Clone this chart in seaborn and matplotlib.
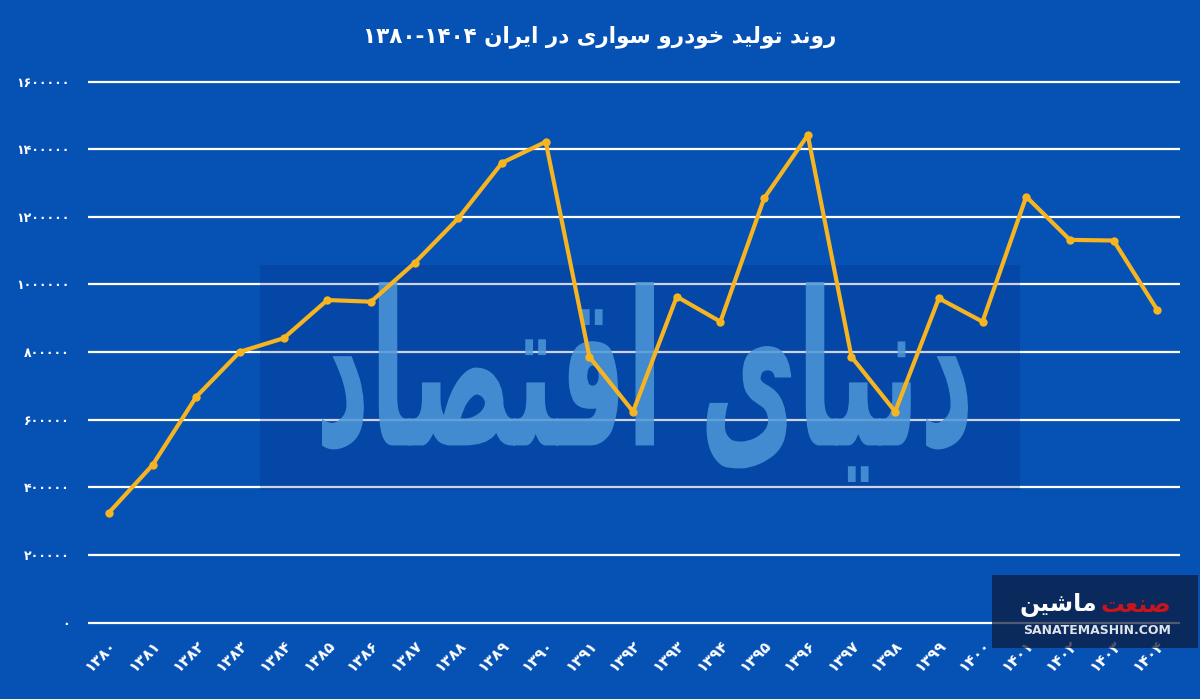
import matplotlib
matplotlib.use("Agg")
import matplotlib.pyplot as plt
import pandas as pd
import seaborn as sns
from matplotlib.patches import Rectangle, PathPatch
from matplotlib.textpath import TextPath
from matplotlib.font_manager import FontProperties
from matplotlib.transforms import Affine2D

# Data
years = [1380, 1381, 1382, 1383, 1384, 1385, 1386, 1387, 1388, 1389, 1390, 1391,
         1392, 1393, 1394, 1395, 1396, 1397, 1398, 1399, 1400, 1401, 1402, 1403, 1404]
production = [325000, 466000, 668000, 801000, 841000, 954000, 949000, 1064000,
              1196000, 1360000, 1422000, 786000, 624000, 964000, 890000, 1255000,
              1442000, 786000, 624000, 959000, 890000, 1260000, 1132000, 1130000, 925000]
y_ticks = [0, 200000, 400000, 600000, 800000, 1000000, 1200000, 1400000, 1600000]

title_text = "روند تولید خودرو سواری در ایران"
title_range = "۱۳۸۰-۱۴۰۴"
watermark_text = "دنیای اقتصاد"
logo_red = "صنعت"
logo_white = "ماشین"
logo_url = "SANATEMASHIN.COM"

# Persian digits
fa_digits = str.maketrans("0123456789", "۰۱۲۳۴۵۶۷۸۹")
x_labels = [str(y).translate(fa_digits) for y in years]
y_labels = [str(v).translate(fa_digits) for v in y_ticks]

# Minimal Arabic shaping (matplotlib has no complex text layout)
FORMS = {
    "ا": (0xFE8D, 0xFE8E, None, None),
    "د": (0xFEA9, 0xFEAA, None, None),
    "ر": (0xFEAD, 0xFEAE, None, None),
    "و": (0xFEED, 0xFEEE, None, None),
    "ب": (0xFE8F, 0xFE90, 0xFE91, 0xFE92),
    "ت": (0xFE95, 0xFE96, 0xFE97, 0xFE98),
    "خ": (0xFEA5, 0xFEA6, 0xFEA7, 0xFEA8),
    "س": (0xFEB1, 0xFEB2, 0xFEB3, 0xFEB4),
    "ش": (0xFEB5, 0xFEB6, 0xFEB7, 0xFEB8),
    "ص": (0xFEB9, 0xFEBA, 0xFEBB, 0xFEBC),
    "ع": (0xFEC9, 0xFECA, 0xFECB, 0xFECC),
    "ق": (0xFED5, 0xFED6, 0xFED7, 0xFED8),
    "ل": (0xFEDD, 0xFEDE, 0xFEDF, 0xFEE0),
    "م": (0xFEE1, 0xFEE2, 0xFEE3, 0xFEE4),
    "ن": (0xFEE5, 0xFEE6, 0xFEE7, 0xFEE8),
    "ی": (0xFEEF, 0xFEF0, 0xFEF3, 0xFEF4),
}


def shape_word(word):
    out = []
    for i, c in enumerate(word):
        if c not in FORMS:
            out.append(c)
            continue
        iso, fin, ini, med = FORMS[c]
        prev = word[i - 1] if i > 0 else None
        nxt = word[i + 1] if i + 1 < len(word) else None
        jp = prev is not None and prev in FORMS and FORMS[prev][2] is not None
        jn = ini is not None and nxt is not None and nxt in FORMS
        if jp and jn:
            code = med
        elif jp:
            code = fin
        elif jn:
            code = ini
        else:
            code = iso
        out.append(chr(code))
    return "".join(reversed(out))


def rtl(text):
    return " ".join(shape_word(w) for w in reversed(text.split(" ")))


df = pd.DataFrame({"year": years, "value": production})

bg = "#0551b4"
line_color = "#f6b420"

sns.set_style("white")
plt.rcParams["font.family"] = ["DejaVu Sans"]

fig = plt.figure(figsize=(12, 6.99), dpi=100, facecolor=bg)
ax = fig.add_axes([0.0733, 0.1046, 0.91, 0.7834])
ax.set_facecolor(bg)

sns.lineplot(data=df, x="year", y="value", ax=ax, color=line_color, linewidth=3,
             marker="o", markersize=6, markeredgewidth=0, zorder=2)

ax.set_xlim(years[0] - 0.48, years[-1] + 0.52)
ax.set_ylim(-10000, 1610000)
ax.set_yticks(y_ticks)
ax.set_yticklabels(y_labels, color="white", fontsize=9, fontweight="bold")
ax.set_xticks(years)
ax.set_xticklabels(x_labels, color="white", fontsize=11, fontweight="bold",
                   rotation=45, ha="right", va="top", rotation_mode="anchor")
ax.tick_params(axis="y", length=0, pad=13)
ax.tick_params(axis="x", length=0, pad=8)
ax.yaxis.grid(True, color="white", linewidth=1.6, zorder=0.5)
ax.set_axisbelow(True)
for s in ax.spines.values():
    s.set_visible(False)
ax.set_xlabel("")
ax.set_ylabel("")

# Title
fig.text(0.5, 0.948, title_range + " " + rtl(title_text), color="white",
         fontsize=15.5, fontweight="bold", ha="center", va="center")

# Watermark box, over the grid and under the line
ax.add_patch(Rectangle((260 / 1200, 1 - 490 / 699), 760 / 1200, 225 / 699,
                       transform=fig.transFigure, facecolor="#0a2070",
                       alpha=0.2, edgecolor="none", zorder=0.8, clip_on=False))

# Watermark text (stretched to fill its area)
tp = TextPath((0, 0), rtl(watermark_text), size=100,
              prop=FontProperties(family="DejaVu Sans", weight="bold"))
ext = tp.get_extents()
wx0, wx1 = 322 / 1200, 968 / 1200
wy0, wy1 = 1 - 482 / 699, 1 - 282 / 699
wm_tr = (Affine2D().translate(-ext.x0, -ext.y0)
         .scale((wx1 - wx0) / ext.width, (wy1 - wy0) / ext.height)
         .translate(wx0, wy0) + fig.transFigure)
ax.add_patch(PathPatch(tp, transform=wm_tr, facecolor="#4f98d8", edgecolor="none",
                       alpha=0.85, zorder=1, clip_on=False))

# Logo box
fig.patches.append(Rectangle((992 / 1200, 1 - 648 / 699), 206 / 1200, 73 / 699,
                             transform=fig.transFigure, facecolor="#0c1a3a",
                             alpha=0.72, edgecolor="none", zorder=7))
fig.text(1097 / 1200, 1 - 605 / 699, rtl(logo_white), color="white", fontsize=17,
         fontweight="bold", ha="right", va="center", zorder=8)
fig.text(1101 / 1200, 1 - 605 / 699, rtl(logo_red), color="#c8141c", fontsize=17,
         fontweight="bold", ha="left", va="center", zorder=8)
fig.text(1097 / 1200, 1 - 630 / 699, logo_url, color="#dfe3ea", fontsize=9,
         fontweight="bold", ha="center", va="center", zorder=8)

fig.savefig("out.png", dpi=100, facecolor=bg)
